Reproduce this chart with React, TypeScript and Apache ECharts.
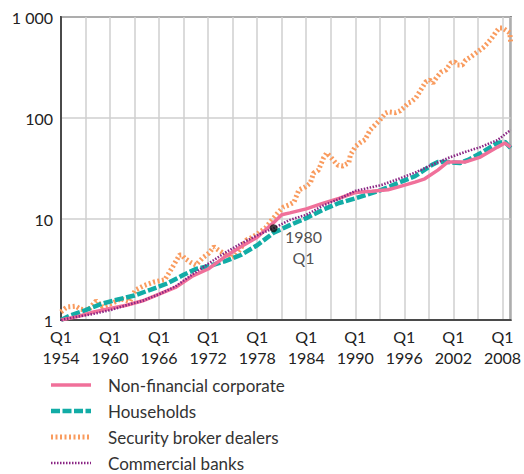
import React, { useEffect, useRef } from 'react';
import * as echarts from 'echarts';

const FONT = 'Lato, "Open Sans", sans-serif';
const BASE_YEAR = 1954;

// x tick labels (every 6 years, quarter Q1)
const tickYears = [1954, 1960, 1966, 1972, 1978, 1984, 1990, 1996, 2002, 2008];

// Non-financial corporate
const nonFinYears = [1954, 1956, 1958, 1960, 1962, 1964, 1966, 1968, 1970, 1972, 1974, 1976, 1978, 1980, 1981, 1982, 1984, 1986, 1988, 1990, 1992, 1994, 1995.2, 1997.3, 1998.5, 2000.1, 2001.3, 2003.4, 2005.3, 2007.4, 2008.3, 2009.0];
const nonFinValues = [1.0, 1.08, 1.2, 1.3, 1.4, 1.55, 1.8, 2.1, 2.7, 3.2, 4.2, 5.3, 6.6, 9.2, 11, 11.5, 12.6, 14.3, 16, 18.3, 18.8, 19.5, 20.7, 23.2, 25, 30.5, 36.6, 36.6, 41, 51.5, 56.5, 51.5];

// Households
const householdYears = [1954, 1955, 1957, 1959, 1961, 1963, 1965, 1967, 1969, 1970.5, 1972, 1974, 1976, 1978, 1980, 1982, 1984, 1986, 1988, 1990, 1992, 1993.2, 1995.2, 1997.3, 1999.3, 2000.1, 2001.3, 2002.8, 2003.8, 2005.3, 2007.4, 2008.3, 2009.0];
const householdValues = [1.0, 1.1, 1.25, 1.45, 1.6, 1.75, 2.0, 2.3, 2.8, 3.2, 3.4, 3.8, 4.4, 5.5, 7.3, 8.7, 10.2, 12.3, 14.4, 16, 18, 19.4, 22.7, 26.5, 34, 36.6, 36.6, 35.8, 38.5, 44.7, 56.7, 58, 50.5];

// Security broker dealers
const brokerYears = [1954, 1954.5, 1954.85, 1955.8, 1956.4, 1957.3, 1958.3, 1959.1, 1960.3, 1961.3, 1962.4, 1963.1, 1964.2, 1965.4, 1966.7, 1967.6, 1968.5, 1968.8, 1969.1, 1969.9, 1970.5, 1971.3, 1972.1, 1972.7, 1973.3, 1974.2, 1974.8, 1975.4, 1976.1, 1976.7, 1977.4, 1978.2, 1979.1, 1979.8, 1980.6, 1981.2, 1981.9, 1982.5, 1983.1, 1983.9, 1984.5, 1984.9, 1985.5, 1986.1, 1986.5, 1987.0, 1987.6, 1987.9, 1988.5, 1989.2, 1989.4, 1990.0, 1990.6, 1991.2, 1991.8, 1992.4, 1993.0, 1993.7, 1994.0, 1994.9, 1995.5, 1996.1, 1996.5, 1996.8, 1997.4, 1998.0, 1998.6, 1999.1, 1999.5, 1999.9, 2000.5, 2001.1, 2001.7, 2002.2, 2002.5, 2003.1, 2003.5, 2004.1, 2004.9, 2005.6, 2006.2, 2006.8, 2007.2, 2007.6, 2008.0, 2008.4, 2008.9, 2009.0];
const brokerValues = [1.2, 1.3, 1.35, 1.37, 1.28, 1.25, 1.55, 1.35, 1.47, 1.62, 1.52, 1.98, 2.2, 2.38, 2.5, 3.3, 4.4, 4.4, 4.1, 3.7, 3.5, 4.1, 4.6, 5.3, 4.9, 4.4, 4.1, 4.4, 5.3, 6.2, 6.6, 7.3, 8.3, 9.8, 11.7, 13.1, 13.8, 14.7, 19.4, 20.8, 22.7, 28.5, 30.5, 40, 45, 41, 36, 34, 33.5, 36, 43, 52, 57, 61, 76, 85, 95, 112, 115, 113, 118, 130, 141, 144, 158, 189, 227, 238, 222, 249, 285, 299, 351, 358, 335, 335, 375, 402, 450, 493, 553, 634, 710, 778, 778, 743, 695, 565];

// Commercial banks
const bankYears = [1954, 1956, 1958, 1960, 1962, 1964, 1966, 1968, 1970, 1972, 1974, 1976, 1978, 1980, 1982, 1984, 1986, 1988, 1990, 1993.2, 1995.2, 1997.3, 1999.3, 2001.3, 2003.4, 2005.3, 2007.4, 2009.0];
const bankValues = [1.0, 1.08, 1.15, 1.25, 1.4, 1.55, 1.8, 2.15, 2.8, 3.6, 4.6, 5.7, 6.9, 8.1, 9.8, 11, 13.5, 15.8, 19, 21.7, 24.8, 28.8, 34.2, 40, 46, 51.5, 60.5, 76];

// Annotated point
const markerYear = 1980;
const markerValue = 8.1;
const markerLabel = '1980\nQ1';

const seriesNames = ['Non-financial corporate', 'Households', 'Security broker dealers', 'Commercial banks'];

const toPairs = (years: number[], values: number[]) => years.map((y, i) => [y - BASE_YEAR, values[i]]);

const PINK = '#f0709a';
const TEAL = '#12aca6';
const ORANGE = '#f99b5e';
const PURPLE = '#8a2584';

const styles = [
  { color: PINK, width: 3.5, dash: null as number[] | null },
  { color: TEAL, width: 4.5, dash: [9, 2.5] },
  { color: ORANGE, width: 5, dash: [2, 2.5] },
  { color: PURPLE, width: 2.5, dash: [1.5, 1.5] },
];

export default function App() {
  const ref = useRef<HTMLDivElement>(null);
  useEffect(() => {
    document.body.style.margin = '0';
    const chart = echarts.init(ref.current!, null, { renderer: 'svg' });
    const legendGraphics: any[] = [];
    seriesNames.forEach((name, i) => {
      const cy = 385 + i * 26;
      const st = styles[i];
      legendGraphics.push({
        type: 'line', shape: { x1: 51, y1: cy, x2: 91, y2: cy },
        style: { stroke: st.color, lineWidth: st.width, lineDash: st.dash || undefined },
      });
      legendGraphics.push({
        type: 'text', x: 108, y: cy,
        style: { text: name, fill: '#333', font: `17px ${FONT}`, textVerticalAlign: 'middle', verticalAlign: 'middle' },
      });
    });
    const lineStyleOf = (i: number) => ({ color: styles[i].color, width: styles[i].width, type: styles[i].dash || 'solid' });
    chart.setOption({
      animation: false,
      textStyle: { fontFamily: FONT },
      grid: {
        left: 61, right: 11, top: 17, bottom: 154,
        show: true, borderColor: '#4a4a4a', borderWidth: 2, backgroundColor: 'transparent',
      },
      xAxis: {
        type: 'value', min: 0, max: 55, interval: 3,
        axisLine: { show: true, lineStyle: { color: '#4a4a4a', width: 2 } },
        axisTick: { show: false },
        splitLine: { show: true, lineStyle: { color: '#cfcfcf', width: 1.5 } },
        axisLabel: {
          color: '#222', fontSize: 16, fontFamily: FONT, lineHeight: 21, margin: 6,
          showMinLabel: true, showMaxLabel: false,
          formatter: (v: number) => (tickYears.includes(v + BASE_YEAR) ? `Q1\n${v + BASE_YEAR}` : ''),
        },
      },
      yAxis: {
        type: 'log', logBase: 10, min: 1, max: 1000,
        axisLine: { show: true, lineStyle: { color: '#4a4a4a', width: 2 } },
        axisTick: { show: false },
        splitLine: { show: true, lineStyle: { color: '#cfcfcf', width: 1.5 } },
        minorSplitLine: { show: false },
        axisLabel: {
          color: '#222', fontSize: 16, fontFamily: FONT, margin: 8,
          formatter: (v: number) => (v === 1000 ? '1 000' : String(v)),
        },
      },
      graphic: legendGraphics,
      series: [
        {
          name: seriesNames[2], type: 'line', symbol: 'none', showSymbol: false,
          data: toPairs(brokerYears, brokerValues),
          lineStyle: lineStyleOf(2), itemStyle: { color: ORANGE },
        },
        {
          name: seriesNames[1], type: 'line', symbol: 'none', showSymbol: false,
          data: toPairs(householdYears, householdValues),
          lineStyle: lineStyleOf(1), itemStyle: { color: TEAL },
        },
        {
          name: seriesNames[0], type: 'line', symbol: 'none', showSymbol: false,
          data: toPairs(nonFinYears, nonFinValues),
          lineStyle: lineStyleOf(0), itemStyle: { color: PINK },
        },
        {
          name: seriesNames[3], type: 'line', symbol: 'none', showSymbol: false,
          data: toPairs(bankYears, bankValues),
          lineStyle: lineStyleOf(3), itemStyle: { color: PURPLE },
        },
        {
          name: 'marker', type: 'scatter', symbol: 'circle', symbolSize: 8, z: 10,
          itemStyle: { color: '#111' },
          data: [[markerYear - BASE_YEAR, markerValue]],
          label: {
            show: true, formatter: markerLabel, position: [34, 2], align: 'center', verticalAlign: 'top',
            fontSize: 16, lineHeight: 21, color: '#222', fontFamily: FONT,
          },
        },
      ],
    });
    return () => chart.dispose();
  }, []);
  return <div ref={ref} style={{ width: 524, height: 474 }} />;
}
